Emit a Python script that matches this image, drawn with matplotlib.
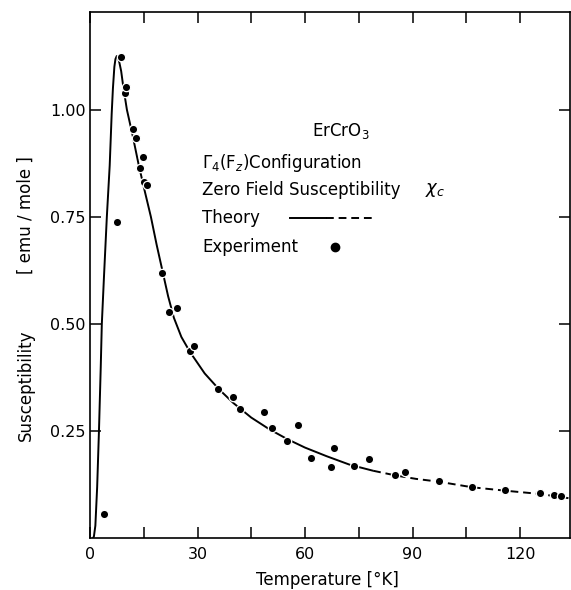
import matplotlib
matplotlib.use('Agg')
import matplotlib.pyplot as plt

# experiment points (T in K, chi in emu/mole)
T_exp = [3.99, 7.62, 8.65, 9.68, 10.04, 12.08, 12.92, 13.95, 14.70, 15.07,
         15.90, 20.17, 22.04, 24.19, 27.90, 29.10, 35.80, 39.98, 41.85, 48.63,
         50.78, 55.05, 58.12, 61.75, 67.24, 68.08, 73.74, 77.93, 85.02, 87.81,
         97.29, 106.67, 115.88, 125.56, 129.55, 131.42]
chi_exp = [0.057, 0.737, 1.122, 1.039, 1.052, 0.956, 0.935, 0.863, 0.889, 0.832,
           0.825, 0.620, 0.529, 0.538, 0.437, 0.449, 0.349, 0.330, 0.303, 0.295,
           0.257, 0.227, 0.265, 0.187, 0.167, 0.212, 0.170, 0.185, 0.148, 0.154,
           0.135, 0.121, 0.114, 0.105, 0.101, 0.100]

# theory curve, solid part then dashed part
T_th_solid = [0.8, 1.1, 1.5, 2.0, 2.5, 3.0, 3.3, 3.9, 4.7, 5.5, 6.05, 6.4, 6.8,
              7.1, 7.45, 7.8, 8.2, 8.7, 9.3, 10.3, 11.9, 13.5, 15.0, 17.0, 18.6,
              20.2, 21.8, 23.4, 25.5, 27.9, 32.0, 36.0, 40.0, 45.0, 50.0, 55.0,
              60.0, 66.0, 72.5, 79.0]
chi_th_solid = [0.0, 0.005, 0.03, 0.12, 0.25, 0.40, 0.50, 0.61, 0.75, 0.87, 0.99,
                1.05, 1.10, 1.118, 1.125, 1.122, 1.11, 1.09, 1.053, 1.00, 0.94,
                0.875, 0.82, 0.75, 0.685, 0.625, 0.565, 0.515, 0.47, 0.435,
                0.385, 0.348, 0.316, 0.282, 0.255, 0.232, 0.212, 0.192, 0.172,
                0.158]
T_th_dash = [79.0, 85.6, 91.0, 97.3, 106.7, 115.9, 125.6, 133.8]
chi_th_dash = [0.158, 0.1465, 0.139, 0.1325, 0.1194, 0.1115, 0.1038, 0.0937]

x_ticks = [0, 15, 30, 45, 60, 75, 90, 105, 120]
x_labels = ['0', '', '30', '', '60', '', '90', '', '120']
y_ticks = [0.25, 0.50, 0.75, 1.00]
y_labels = ['0.25', '0.50', '0.75', '1.00']


def main():
    plt.rcParams['font.family'] = ['DejaVu Sans']
    fig = plt.figure(figsize=(5.71, 5.90), dpi=100)
    ax = fig.add_axes([0.1576, 0.0873, 0.8398, 0.8924])

    ax.plot(T_th_solid, chi_th_solid, color='black', lw=1.4, solid_capstyle='butt')
    ax.plot(T_th_dash, chi_th_dash, color='black', lw=1.4, ls=(0, (4, 2.5)))
    ax.plot(T_exp, chi_exp, 'o', color='black', ms=6.0, mec='white', mew=0.9)

    ax.set_xlim(0, 133.8)
    ax.set_ylim(0, 1.228)
    ax.set_xticks(x_ticks)
    ax.set_xticklabels(x_labels)
    ax.set_yticks(y_ticks)
    ax.set_yticklabels(y_labels)
    ax.tick_params(direction='in', length=8, width=1.1, labelsize=11.5,
                   top=True, right=True)
    ax.tick_params(axis='x', pad=6)
    ax.tick_params(axis='y', pad=3)
    for s in ax.spines.values():
        s.set_linewidth(1.2)

    # axis titles
    fig.text(0.045, 1 - 385 / 590, 'Susceptibility', rotation=90, ha='center',
             va='center', fontsize=12)
    fig.text(0.045, 1 - 215 / 590, '[ emu / mole ]', rotation=90, ha='center',
             va='center', fontsize=12)
    fig.text(327 / 571, 1 - 580 / 590, 'Temperature [°K]', ha='center',
             va='center', fontsize=12)

    # legend block
    fs = 12
    fig.text(312 / 571, 1 - 131 / 590, 'ErCrO$_3$', va='center', fontsize=fs)
    fig.text(202 / 571, 1 - 163 / 590, r'$\Gamma_4$(F$_z$)Configuration',
             va='center', fontsize=fs)
    fig.text(202 / 571, 1 - 190 / 590, 'Zero Field Susceptibility',
             va='center', fontsize=fs)
    fig.text(425 / 571, 1 - 190 / 590, r'$\chi_c$', va='center', fontsize=13)
    fig.text(202 / 571, 1 - 218 / 590, 'Theory', va='center', fontsize=fs)
    fig.text(202 / 571, 1 - 247 / 590, 'Experiment', va='center', fontsize=fs)
    y_th = 1 - 218 / 590
    fig.add_artist(plt.Line2D([290 / 571, 326 / 571], [y_th, y_th],
                              color='black', lw=1.4))
    fig.add_artist(plt.Line2D([326 / 571, 372 / 571], [y_th, y_th],
                              color='black', lw=1.4, ls=(0, (4, 2.5))))
    fig.add_artist(plt.Line2D([335 / 571], [1 - 247 / 590], marker='o',
                              color='black', ms=6.0))

    fig.savefig('out.png', dpi=100)


if __name__ == '__main__':
    main()
